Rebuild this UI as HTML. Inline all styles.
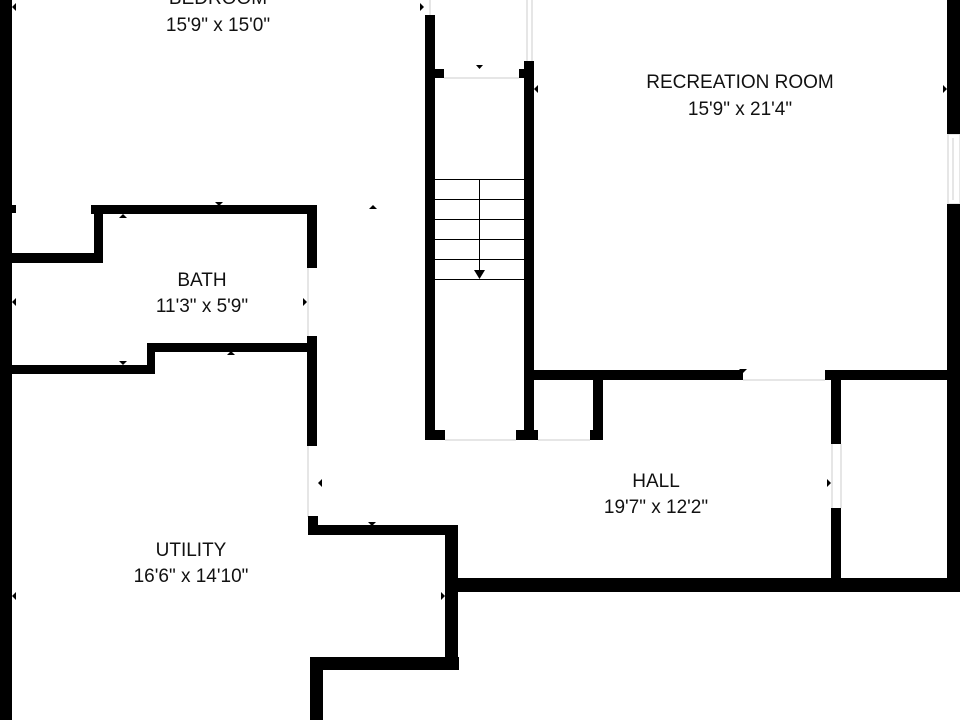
<!DOCTYPE html>
<html><head><meta charset="utf-8"><style>
html,body{margin:0;padding:0;background:#fff;width:960px;height:720px;overflow:hidden}
text{font-family:"Liberation Sans",Arial,sans-serif;font-size:19px;fill:#111;text-anchor:middle}
</style></head><body>
<svg width="960" height="720" viewBox="0 0 960 720" xmlns="http://www.w3.org/2000/svg">
<rect width="960" height="720" fill="#fff"/>
<g stroke="#ddd" stroke-width="1.5" fill="none">
<line x1="430" y1="0" x2="430" y2="15"/>
<line x1="527" y1="0" x2="527" y2="61"/>
<line x1="532" y1="0" x2="532" y2="61"/>
<line x1="444" y1="78" x2="519" y2="78"/>
<line x1="445" y1="440" x2="516" y2="440"/>
<line x1="538" y1="440" x2="590" y2="440"/>
<line x1="743" y1="380" x2="825" y2="380"/>
<line x1="832" y1="444" x2="832" y2="508"/>
<line x1="841" y1="444" x2="841" y2="508"/>
<line x1="308" y1="268" x2="308" y2="336"/>
<line x1="308" y1="446" x2="308" y2="517"/>
<rect x="948" y="134" width="12" height="70"/>
<line x1="953" y1="138" x2="953" y2="200"/>
</g>
<g fill="#000">
<rect x="0" y="0" width="12" height="720"/>
<rect x="12" y="205" width="4" height="8"/>
<rect x="12" y="253" width="91" height="10"/>
<rect x="94" y="205" width="9" height="58"/>
<rect x="91" y="205" width="226" height="9"/>
<rect x="307" y="205" width="10" height="63"/>
<rect x="307" y="336" width="10" height="110"/>
<rect x="147" y="343" width="170" height="9"/>
<rect x="147" y="343" width="8" height="31"/>
<rect x="12" y="365" width="143" height="9"/>
<rect x="308" y="516" width="10" height="19"/>
<rect x="308" y="525" width="147" height="10"/>
<rect x="445" y="525" width="13" height="145"/>
<rect x="445" y="578" width="515" height="14"/>
<rect x="310" y="657" width="149" height="13"/>
<rect x="310" y="657" width="13" height="63"/>
<rect x="425" y="15" width="10" height="425"/>
<rect x="435" y="69" width="9" height="9"/>
<rect x="524" y="61" width="10" height="379"/>
<rect x="519" y="69" width="5" height="9"/>
<rect x="425" y="430" width="20" height="10"/>
<rect x="516" y="430" width="22" height="10"/>
<rect x="534" y="370" width="209" height="10"/>
<rect x="593" y="370" width="10" height="70"/>
<rect x="590" y="430" width="13" height="10"/>
<rect x="825" y="370" width="135" height="10"/>
<rect x="831" y="370" width="10" height="74"/>
<rect x="831" y="508" width="10" height="80"/>
<rect x="947" y="0" width="13" height="134"/>
<rect x="947" y="204" width="13" height="388"/>
</g>
<g stroke="#000" stroke-width="1">
<line x1="435" y1="179.5" x2="524" y2="179.5"/>
<line x1="435" y1="199.5" x2="524" y2="199.5"/>
<line x1="435" y1="219.5" x2="524" y2="219.5"/>
<line x1="435" y1="239.5" x2="524" y2="239.5"/>
<line x1="435" y1="259.5" x2="524" y2="259.5"/>
<line x1="435" y1="279.5" x2="524" y2="279.5"/>
<line x1="479.5" y1="179" x2="479.5" y2="272"/>
</g>
<polygon points="474,270 485,270 479.5,279" fill="#000"/>
<g fill="#000">
<polygon points="420,3 424,7 420,11"/>
<polygon points="476,65 483,65 479.5,69"/>
<polygon points="538,85 534,89 538,93"/>
<polygon points="943,85 947,89 943,93"/>
<polygon points="369,209 377,209 373,205"/>
<polygon points="215,202 223,202 219,206"/>
<polygon points="119,218 127,218 123,214"/>
<polygon points="16,298 12,302 16,306"/>
<polygon points="303,298 307,302 303,306"/>
<polygon points="119,361 127,361 123,365"/>
<polygon points="227,355 235,355 231,351"/>
<polygon points="739,369 747,369 743,373"/>
<polygon points="827,479 831,483 827,487"/>
<polygon points="322,479 318,483 322,487"/>
<polygon points="368,522 376,522 372,526"/>
<polygon points="441,592 445,596 441,600"/>
<polygon points="16,592 12,596 16,600"/>
<polygon points="16,3 12,7 16,11"/>
</g>
<text x="218" y="4">BEDROOM</text>
<text x="218" y="31">15'9" x 15'0"</text>
<text x="740" y="88">RECREATION ROOM</text>
<text x="740" y="115">15'9" x 21'4"</text>
<text x="202" y="286">BATH</text>
<text x="202" y="312">11'3" x 5'9"</text>
<text x="191" y="556">UTILITY</text>
<text x="191" y="582">16'6" x 14'10"</text>
<text x="656" y="487">HALL</text>
<text x="656" y="513">19'7" x 12'2"</text>
</svg>
</body></html>
